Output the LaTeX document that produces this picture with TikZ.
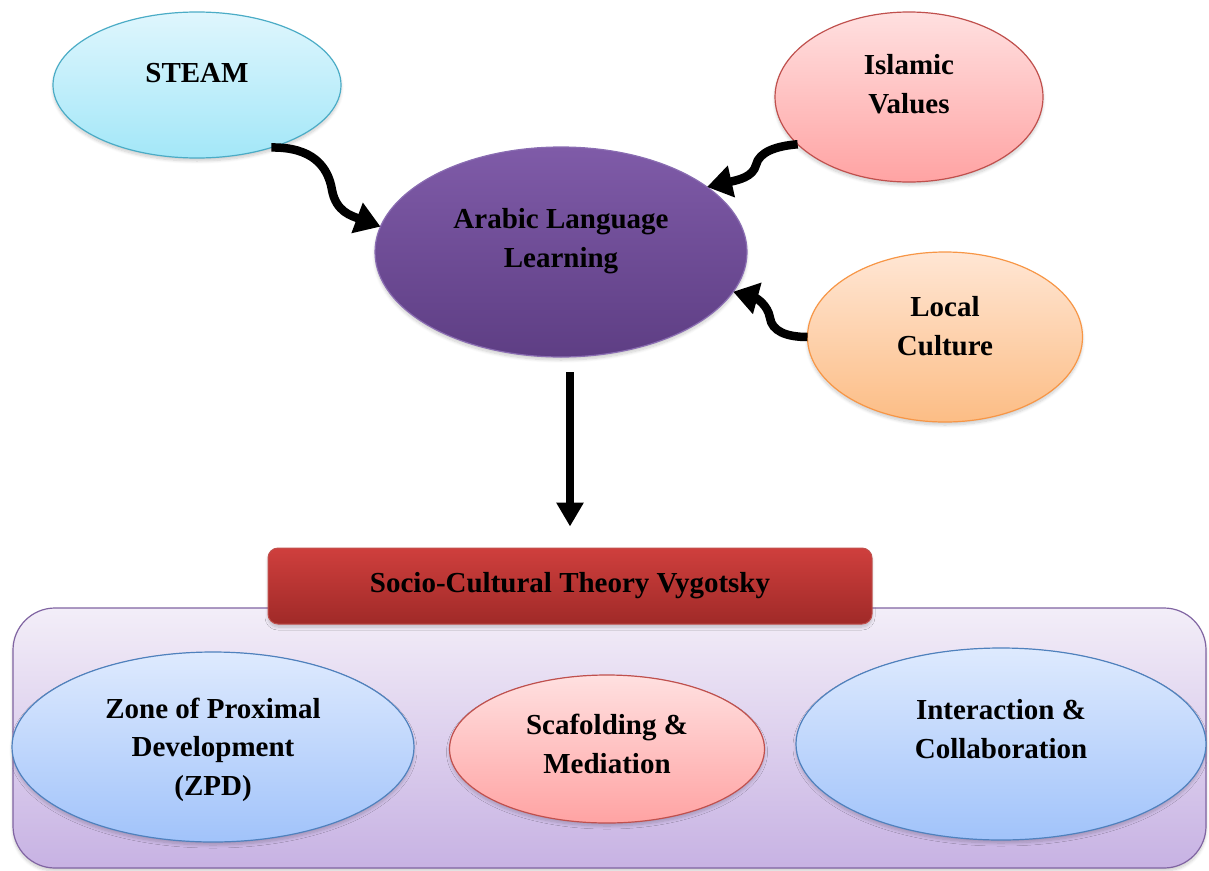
\documentclass[tikz,border=0pt]{standalone}
\usepackage{fontspec}
\setmainfont{Liberation Serif}
\usetikzlibrary{shapes.geometric,arrows.meta,shadows.blur,calc}

% fills (top / bottom) and outlines
\definecolor{steamT}{HTML}{DFF6FD}
\definecolor{steamB}{HTML}{A3E7F8}
\definecolor{steamL}{HTML}{4BACC6}
\definecolor{pinkT}{HTML}{FFE0E0}
\definecolor{pinkB}{HTML}{FFA3A3}
\definecolor{pinkL}{HTML}{C0504D}
\definecolor{purT}{HTML}{7F5BA8}
\definecolor{purB}{HTML}{5E3E84}
\definecolor{purL}{HTML}{8A6DB2}
\definecolor{orT}{HTML}{FFE6D4}
\definecolor{orB}{HTML}{FCBD85}
\definecolor{orL}{HTML}{F79646}
\definecolor{redT}{HTML}{CF3F3D}
\definecolor{redB}{HTML}{A02A28}
\definecolor{redL}{HTML}{C0504D}
\definecolor{frmT}{HTML}{F3EEF8}
\definecolor{frmB}{HTML}{C7B2E3}
\definecolor{frmL}{HTML}{8064A2}
\definecolor{bluT}{HTML}{DEEAFE}
\definecolor{bluB}{HTML}{A1C3FA}
\definecolor{bluL}{HTML}{4F81BD}

\begin{document}
\begin{tikzpicture}[x=1pt,y=-1pt,
  % multi-line labels sit on the baseline of their last line
  lbl/.style={font=\bfseries\fontsize{29}{38.5}\selectfont, align=center,
    anchor=base, inner sep=0pt, outer sep=0pt},
  oval/.style={ellipse, line width=1.2pt, inner sep=0pt, outer sep=0pt},
  softshadow/.style={blur shadow={shadow xshift=0pt, shadow yshift=-3pt,
    shadow blur radius=3pt, shadow blur steps=8, shadow opacity=20}},
  conn/.style={line width=8.5pt, black, -{Triangle[length=25pt,width=31pt]}},
  steamfill/.style={draw=steamL, top color=steamT, bottom color=steamB},
  pinkfill/.style={draw=pinkL, top color=pinkT, bottom color=pinkB},
  purfill/.style={draw=purL, top color=purT, bottom color=purB},
  orfill/.style={draw=orL, top color=orT, bottom color=orB},
  blufill/.style={draw=bluL, top color=bluT, bottom color=bluB},
]
\useasboundingbox (0,0) rectangle (1209,870);

% upper cluster
\node[oval, steamfill, softshadow, minimum width=288pt, minimum height=146pt] (steam) at (197,85) {};
\node[oval, pinkfill, softshadow, minimum width=268pt, minimum height=170pt] (islam) at (909,97) {};
\node[oval, purfill, softshadow, minimum width=372pt, minimum height=210pt] (arabic) at (561,252) {};
\node[oval, orfill, softshadow, minimum width=275pt, minimum height=170pt] (local) at (945,337) {};

\node[lbl] (steam-t) at (197,82) {STEAM};
\node[lbl] (islam-t) at (909,113) {Islamic\\Values};
\node[lbl] (arabic-t) at (561,267) {Arabic Language\\Learning};
\node[lbl] (local-t) at (945,355) {Local\\Culture};

% lower frame with the theory banner
\node[draw=frmL, line width=1.2pt, rounded corners=42pt, top color=frmT, bottom color=frmB,
  softshadow, minimum width=1193pt, minimum height=260pt, inner sep=0pt] (frame) at (609.5,738) {};
\node[draw=redL, line width=1pt, rounded corners=10pt, top color=redT, bottom color=redB,
  softshadow, minimum width=604pt, minimum height=76pt, inner sep=0pt,
  font=\bfseries\fontsize{29}{38.5}\selectfont] (socio) at (570,586) {Socio-Cultural Theory Vygotsky};

\node[oval, blufill, softshadow, minimum width=402pt, minimum height=190pt] (zpd) at (213,747) {};
\node[oval, pinkfill, softshadow, minimum width=315pt, minimum height=148pt] (scaf) at (607,749) {};
\node[oval, blufill, softshadow, minimum width=410pt, minimum height=192pt] (inter) at (1001,744) {};

\node[lbl] (zpd-t) at (213,795) {Zone of Proximal\\Development\\(ZPD)};
\node[lbl] (scaf-t) at (607,773) {Scafolding \&\\Mediation};
\node[lbl] (inter-t) at (1001,758) {Interaction \&\\Collaboration};

% connectors
\draw[conn] (steam.-40) .. controls (312,147) and (328,166) .. (332,190)
  .. controls (336,212) and (352,216) .. (arabic.172);
\draw[conn] (islam.203) .. controls (776,146) and (759,152) .. (756,165)
  .. controls (753,177) and (738,180) .. (arabic.24);
\draw[conn] (local.180) .. controls (786,337) and (772,331) .. (770,318)
  .. controls (768,305) and (756,298) .. (arabic.-13);
\draw[conn, -{Triangle[length=24pt,width=26pt]}] ($(arabic.south -| socio.north)+(0,15)$) -- ($(socio.north)+(0,-21)$);
\end{tikzpicture}
\end{document}
